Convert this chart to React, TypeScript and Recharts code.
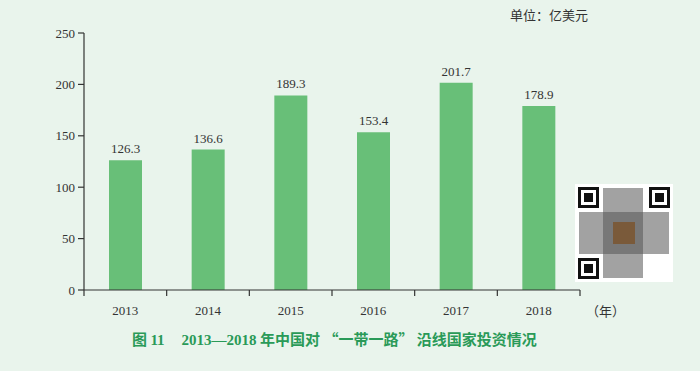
import { BarChart, Bar, XAxis, YAxis, LabelList } from "recharts";

const years = ["2013", "2014", "2015", "2016", "2017", "2018"];
const invest = [126.3, 136.6, 189.3, 153.4, 201.7, 178.9];
const yTicks = [0, 50, 100, 150, 200, 250];

const data = years.map((y, i) => ({ year: y, value: invest[i] }));

const BG = "#e9f4ec";
const BAR = "#68bf78";
const INK = "#333";
const TITLE = "#2a9a58";
const SERIF = "'Liberation Serif', 'Noto Sans CJK SC', serif";
const CJK = "'Noto Sans CJK SC', sans-serif";

// plot area box
const LEFT = 84;
const RIGHT = 580;
const TOP = 33;
const BOTTOM = 290;
const BAND = (RIGHT - LEFT) / years.length;

const YearTick = (props: any) => {
    const { x, y, payload, index } = props;
    const half = BAND / 2;
    return (
        <g>
            <line x1={x - half} y1={y} x2={x - half} y2={y + 6} stroke={INK} strokeWidth={1.2} />
            {index === years.length - 1 && (
                <line x1={x + half} y1={y} x2={x + half} y2={y + 6} stroke={INK} strokeWidth={1.2} />
            )}
            <text x={x} y={y + 25} textAnchor="middle" fontSize={13} fontFamily={SERIF} fill={INK}>
                {payload.value}
            </text>
        </g>
    );
};

const QrMark = () => {
    const finder = (x: number, y: number) => (
        <g key={`${x}-${y}`}>
            <rect x={x} y={y} width={21} height={21} fill="#111" />
            <rect x={x + 3} y={y + 3} width={15} height={15} fill="#fff" />
            <rect x={x + 6} y={y + 6} width={9} height={9} fill="#111" />
        </g>
    );
    return (
        <svg width={98} height={98} style={{ position: "absolute", left: 575, top: 184 }}>
            <rect width={98} height={98} fill="#fff" />
            {finder(3, 3)}
            {finder(74, 3)}
            {finder(3, 74)}
            <rect x={28} y={4} width={40} height={90} fill="#555" opacity={0.55} />
            <rect x={4} y={28} width={90} height={42} fill="#555" opacity={0.55} />
            <rect x={38} y={38} width={22} height={22} fill="#7a5a3a" />
        </svg>
    );
};

export default function App() {
    return (
        <div style={{ position: "absolute", left: 0, top: 0, width: 700, height: 371, background: BG, overflow: "hidden" }}>
            <BarChart
                width={700}
                height={371}
                data={data}
                margin={{ top: TOP, right: 700 - RIGHT, left: LEFT - 1, bottom: 371 - BOTTOM - 1 }}
            >
                <XAxis
                    dataKey="year"
                    height={1}
                    tickLine={false}
                    tickSize={0}
                    tickMargin={0}
                    axisLine={{ stroke: INK, strokeWidth: 1.2 }}
                    tick={<YearTick />}
                    interval={0}
                />
                <YAxis
                    width={1}
                    domain={[0, 250]}
                    ticks={yTicks}
                    tickSize={6}
                    tickMargin={3}
                    axisLine={{ stroke: INK, strokeWidth: 1.2 }}
                    tickLine={{ stroke: INK, strokeWidth: 1.2 }}
                    tick={{ fontSize: 13, fontFamily: SERIF, fill: INK }}
                />
                <Bar dataKey="value" fill={BAR} barSize={33} isAnimationActive={false}>
                    <LabelList
                        dataKey="value"
                        position="top"
                        offset={7}
                        style={{ fontSize: 13, fontFamily: SERIF, fill: INK }}
                    />
                </Bar>
            </BarChart>
            <div style={{ position: "absolute", left: 510, top: 5, fontSize: 13, fontFamily: SERIF, color: INK }}>
                单位：亿美元
            </div>
            <div style={{ position: "absolute", left: 586, top: 301, fontSize: 13, fontFamily: CJK, color: INK, whiteSpace: "pre" }}>
                {"（年）"}
            </div>
            <div
                style={{
                    position: "absolute",
                    left: 132,
                    top: 329,
                    fontSize: 15,
                    lineHeight: "20px",
                    fontWeight: "bold",
                    color: TITLE,
                    whiteSpace: "pre",
                }}
            >
                <span style={{ fontFamily: CJK }}>图 </span>
                <span style={{ fontFamily: SERIF }}>11</span>
                <span style={{ display: "inline-block", width: 17 }} />
                <span style={{ fontFamily: SERIF }}>2013—2018</span>
                <span style={{ fontFamily: CJK }}>{" 年中国对 “一带一路” 沿线国家投资情况"}</span>
            </div>
            <QrMark />
        </div>
    );
}
